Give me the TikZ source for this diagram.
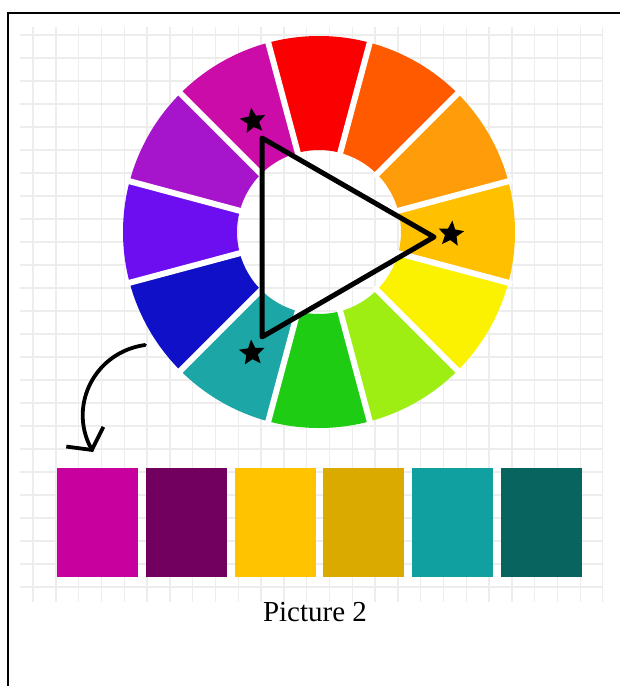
\documentclass[tikz,border=0pt]{standalone}
\usepackage{fontspec}
\setmainfont{Liberation Serif}
\usepackage{xcolor}
\usepackage{tikz}
\usetikzlibrary{shapes.geometric,arrows.meta,positioning}

% wheel colours
\definecolor{wRed}{HTML}{FA0000}
\definecolor{wRedOrange}{HTML}{FF5A00}
\definecolor{wOrange}{HTML}{FF9C0A}
\definecolor{wYellowOrange}{HTML}{FFC000}
\definecolor{wYellow}{HTML}{FAF200}
\definecolor{wYellowGreen}{HTML}{9EEE14}
\definecolor{wGreen}{HTML}{1ECC14}
\definecolor{wTeal}{HTML}{1CA6A6}
\definecolor{wBlue}{HTML}{1010C8}
\definecolor{wBlueViolet}{HTML}{6C0EF0}
\definecolor{wViolet}{HTML}{A614CC}
\definecolor{wMagenta}{HTML}{CC0CA8}
% swatch colours
\definecolor{sMagenta}{HTML}{C8009E}
\definecolor{sPlum}{HTML}{72005F}
\definecolor{sGold}{HTML}{FFC300}
\definecolor{sOchre}{HTML}{DAAA00}
\definecolor{sTeal}{HTML}{10A0A0}
\definecolor{sDarkTeal}{HTML}{08645F}

\begin{document}
\begin{tikzpicture}[
    x=1pt, y=-1pt,
    gridline/.style={draw=black!7, line width=1.4pt},
    gap/.style={draw=white, line width=6pt},
    sketch/.style={draw=black, line width=5pt, line join=round, line cap=round},
    starmark/.style={star, star points=5, star point ratio=2.2, fill=black, inner sep=0pt, minimum size=27pt},
    swatch/.style={rectangle, inner sep=0pt, minimum width=81pt, minimum height=109pt},
    caption/.style={font=\fontsize{29}{33}\selectfont}
]
\useasboundingbox (0,0) rectangle (620,686);
\fill[white] (0,0) rectangle (620,686);

% paper grid
\begin{scope}
  \clip (20,27) rectangle (603,602);
  \foreach \gx in {33,55.8,...,610} \draw[gridline] (\gx,27) -- (\gx,602);
  \foreach \gy in {35,58,...,602} \draw[gridline] (20,\gy) -- (603,\gy);
\end{scope}

% frame
\draw[line width=2.5pt] (8,686) -- (8,13) -- (620,13);

% colour wheel
\begin{scope}[shift={(319,232)}]
  \foreach \ang/\col in {90/wRed, 120/wMagenta, 150/wViolet, 180/wBlueViolet,
      210/wBlue, 240/wTeal, 270/wGreen, 300/wYellowGreen, 330/wYellow,
      0/wYellowOrange, 30/wOrange, 60/wRedOrange}
    \fill[\col] (\ang-15:82pt) arc[start angle=\ang-15, end angle=\ang+15, radius=82pt]
      -- (\ang+15:196pt) arc[start angle=\ang+15, end angle=\ang-15, radius=196pt] -- cycle;
  \foreach \ang in {15,45,...,345}
    \draw[gap] (\ang:78pt) -- (\ang:200pt);
\end{scope}

% triad
\coordinate (tTop) at (262,138);
\coordinate (tRight) at (434,237);
\coordinate (tBottom) at (262,337);
\draw[sketch] (tTop) -- (tRight) -- (tBottom) -- cycle;
\node[starmark, rotate=8] (starTop) at (253,121) {};
\node[starmark, rotate=-6] (starRight) at (451,234) {};
\node[starmark, rotate=4] (starBottom) at (252,353) {};

% swatches
\node[swatch, fill=sMagenta] (sw1) at (97.5,522.5) {};
\node[swatch, fill=sPlum, right=7.4pt of sw1] (sw2) {};
\node[swatch, fill=sGold, right=7.4pt of sw2] (sw3) {};
\node[swatch, fill=sOchre, right=7.4pt of sw3] (sw4) {};
\node[swatch, fill=sTeal, right=7.4pt of sw4] (sw5) {};
\node[swatch, fill=sDarkTeal, right=7.4pt of sw5] (sw6) {};

% hand-drawn arrow
\coordinate (arrowStart) at (145,345);
\coordinate (arrowEnd) at (93,452);
\draw[line width=3.8pt, line cap=round, -{Straight Barb[length=15pt, width=42pt, line width=3.8pt]}]
  (arrowStart) .. controls (95,352) and (68,405) .. (arrowEnd);

\node[caption] (label) at (315,612) {Picture 2};
\end{tikzpicture}
\end{document}
